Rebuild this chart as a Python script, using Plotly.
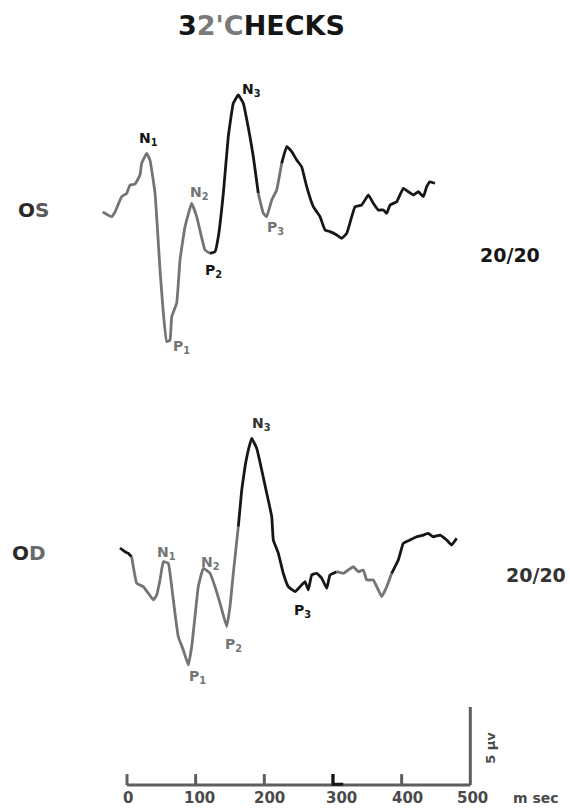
import plotly.graph_objects as go

# ---------------- data (time in ms, amplitude in microvolts) ----------------
os_ms = [-35.4, -22.3, -17.5, -7.7, -0.4, 4.4, 11.7, 18.9, 21.4, 28.7, 33.5, 40.8,
         48.1, 52.9, 57.8, 62.6, 65.1, 72.4, 77.2, 84.5, 94.2, 101.5, 113.6, 120.9,
         128.2, 133.0, 140.3, 147.5, 154.8, 162.1, 169.4, 179.1, 184.0, 191.2, 198.5,
         203.5, 210.8, 218.0, 225.3, 232.6, 239.9, 247.2, 254.4, 261.7, 271.3, 281.1,
         288.4, 295.7, 305.4, 312.7, 320.0, 327.3, 332.1, 341.8, 351.5, 358.7, 366.0,
         373.3, 378.3, 383.1, 392.8, 402.4, 409.7, 417.0, 424.3, 431.6, 436.5, 441.3,
         448.6]
os_uv = [0.0, -0.30, 0.0, 0.98, 1.20, 1.73, 1.79, 2.37, 3.12, 3.76, 3.33, 1.22,
         -3.72, -6.47, -8.31, -8.21, -6.71, -5.83, -3.08, -0.94, 0.56, -0.30, -2.44,
         -2.65, -2.54, -1.58, 1.20, 4.83, 6.97, 7.50, 6.97, 4.83, 3.54, 1.20, -0.08,
         -0.30, 0.77, 1.41, 3.12, 4.19, 3.87, 3.33, 2.90, 1.62, 0.34, -0.30, -1.15,
         -1.26, -1.47, -1.69, -1.37, -0.30, 0.34, 0.45, 1.09, 0.56, 0.13, 0.13, -0.08,
         0.45, 0.66, 1.52, 1.30, 1.09, 1.30, 0.98, 1.62, 1.94, 1.84]

od_ms = [-10.2, -2.9, 1.9, 6.8, 9.2, 14.1, 23.7, 31.0, 38.3, 43.3, 48.1, 52.9, 60.2,
         65.1, 69.9, 74.7, 82.0, 89.3, 94.2, 99.0, 103.8, 111.1, 120.9, 128.2, 135.5,
         145.2, 150.0, 154.8, 162.1, 167.1, 171.9, 176.7, 181.6, 188.9, 196.2, 203.5,
         210.8, 213.1, 220.4, 227.6, 234.9, 244.7, 252.0, 259.3, 264.1, 269.0, 276.3,
         283.6, 290.9, 295.7, 305.4, 315.0, 322.3, 329.6, 336.9, 344.2, 349.1, 358.7,
         366.0, 371.0, 378.3, 385.5, 395.1, 402.4, 412.2, 421.9, 431.6, 438.8, 446.1,
         455.9, 465.6, 472.9, 480.2]
od_uv = [0.0, -0.24, -0.34, -0.56, -1.20, -2.26, -2.48, -2.90, -3.33, -3.01, -2.05,
         -0.88, -0.98, -2.48, -4.19, -5.69, -6.54, -7.50, -6.33, -4.40, -2.48, -1.30,
         -1.62, -2.48, -3.54, -5.04, -3.76, -1.62, 1.37, 3.72, 5.21, 6.28, 7.03, 6.39,
         5.00, 3.51, 2.01, 0.51, -0.34, -1.62, -2.48, -2.80, -2.48, -2.16, -2.69,
         -1.73, -1.62, -1.94, -2.58, -1.73, -1.52, -1.62, -1.41, -1.20, -1.52, -1.41,
         -2.05, -2.05, -2.69, -3.12, -2.48, -1.62, -0.77, 0.30, 0.51, 0.72, 0.83, 0.94,
         0.72, 0.83, 0.51, 0.19, 0.62]

peak_names = ["N<sub>1</sub>", "N<sub>2</sub>", "N<sub>3</sub>",
              "P<sub>1</sub>", "P<sub>2</sub>", "P<sub>3</sub>"]
os_label_ms = [30.6, 106.3, 182.0, 78.7, 126.7, 215.6]
os_label_uv = [4.65, 1.22, 7.82, -8.65, -3.78, -1.03]
od_label_ms = [56.8, 120.9, 195.2, 102.0, 155.8, 254.9]
od_label_uv = [-0.32, -0.96, 7.95, -8.27, -6.22, -4.04]

tick_ms = [0, 100, 200, 300, 400, 500]
tick_labels = ["0", "100", "200", "300", "400", "500"]
scale_bar_uv = 5

# ---------------- style / layout constants ----------------
W, H = 570, 810
X0_PX, PX_PER_MS = 127, 0.6866
Y0_PX, PX_PER_UV = 785, 15.6
OS_OFFSET = (Y0_PX - 212) / PX_PER_UV
OD_OFFSET = (Y0_PX - 548) / PX_PER_UV
GRAY = "#747474"
BLACK = "#161616"
FONT = "DejaVu Sans"

os_segments = [(0, 23, GRAY), (23, 33, BLACK), (33, 38, GRAY), (38, len(os_ms) - 1, BLACK)]
od_segments = [(0, 3, BLACK), (3, 28, GRAY), (28, 50, BLACK), (50, 61, GRAY),
               (61, len(od_ms) - 1, BLACK)]
os_label_colors = [BLACK, GRAY, BLACK, GRAY, BLACK, GRAY]
od_label_colors = [GRAY, GRAY, "#333333", GRAY, GRAY, BLACK]

fig = go.Figure()


def add_wave(ms, uv, offset, segments):
    for a, b, col in segments:
        fig.add_trace(go.Scatter(
            x=ms[a:b + 1], y=[v + offset for v in uv[a:b + 1]],
            mode="lines", line=dict(color=col, width=2.8, shape="spline", smoothing=0.3),
            hoverinfo="skip", showlegend=False))


add_wave(os_ms, os_uv, OS_OFFSET, os_segments)
add_wave(od_ms, od_uv, OD_OFFSET, od_segments)

# time axis with ticks and the vertical calibration bar
tick_h = 0.7
ax_x, ax_y = [tick_ms[0], tick_ms[-1]], [0, 0]
for t in tick_ms[:-1]:
    ax_x += [None, t, t]
    ax_y += [None, 0, tick_h]
ax_x += [None, tick_ms[-1], tick_ms[-1]]
ax_y += [None, 0, scale_bar_uv]
fig.add_trace(go.Scatter(x=ax_x, y=ax_y, mode="lines",
                         line=dict(color="#5e5e5e", width=3),
                         hoverinfo="skip", showlegend=False))
# dark foot on the 300 tick
fig.add_trace(go.Scatter(x=[tick_ms[3], tick_ms[3], tick_ms[3] + 15],
                         y=[tick_h, 0.05, 0.05], mode="lines",
                         line=dict(color=BLACK, width=3),
                         hoverinfo="skip", showlegend=False))

annotations = []


def ann(**kw):
    kw.setdefault("showarrow", False)
    kw.setdefault("xanchor", "center")
    kw.setdefault("yanchor", "middle")
    annotations.append(kw)


for name, x, y, c in zip(peak_names, os_label_ms, os_label_uv, os_label_colors):
    ann(x=x, y=y + OS_OFFSET, text=f"<b>{name}</b>", font=dict(family=FONT, size=14, color=c))
for name, x, y, c in zip(peak_names, od_label_ms, od_label_uv, od_label_colors):
    ann(x=x, y=y + OD_OFFSET, text=f"<b>{name}</b>", font=dict(family=FONT, size=14, color=c))

label_y = -(798 - Y0_PX) / PX_PER_UV
label_shift = [2, 6, 8, 12, 8, 3]
for t, lab, s in zip(tick_ms, tick_labels, label_shift):
    ann(x=t + s, y=label_y, text=f"<b>{lab}</b>", font=dict(family=FONT, size=15, color="#4a4a4a"))
ann(x=tick_ms[-1] + 95, y=label_y, text="<b>m sec</b>",
    font=dict(family=FONT, size=14, color="#4a4a4a"))
ann(x=tick_ms[-1] + 29, y=scale_bar_uv * 0.48, text="<b>5 µv</b>", textangle=-90,
    font=dict(family=FONT, size=13, color="#4a4a4a"))


def paper(px, py):
    return px / W, 1 - py / H


tx, ty = paper(261, 25)
ann(x=tx, y=ty, xref="paper", yref="paper",
    text="<b>3<span style='color:#7a7a7a'>2'C</span>HECKS</b>",
    font=dict(family=FONT, size=27, color=BLACK))
for txt, px, py in [("<b>O<span style='color:#5a5a5a'>S</span></b>", 33, 210),
                    ("<b>O<span style='color:#6a6a6a'>D</span></b>", 29, 553)]:
    x, y = paper(px, py)
    ann(x=x, y=y, xref="paper", yref="paper", text=txt,
        font=dict(family=FONT, size=20, color="#2a2a2a"))
for px, py, col in [(510, 255, BLACK), (536, 575, "#333333")]:
    x, y = paper(px, py)
    ann(x=x, y=y, xref="paper", yref="paper", text="<b>20/20</b>",
        font=dict(family=FONT, size=19, color=col))

fig.update_layout(
    width=W, height=H, margin=dict(l=0, r=0, t=0, b=0),
    paper_bgcolor="white", plot_bgcolor="white",
    xaxis=dict(range=[-X0_PX / PX_PER_MS, (W - X0_PX) / PX_PER_MS], visible=False),
    yaxis=dict(range=[-(H - Y0_PX) / PX_PER_UV, Y0_PX / PX_PER_UV], visible=False),
    annotations=annotations,
    showlegend=False,
)

fig.write_html("out.html", config={"displayModeBar": False},
               post_script="document.body.style.margin='0';")
